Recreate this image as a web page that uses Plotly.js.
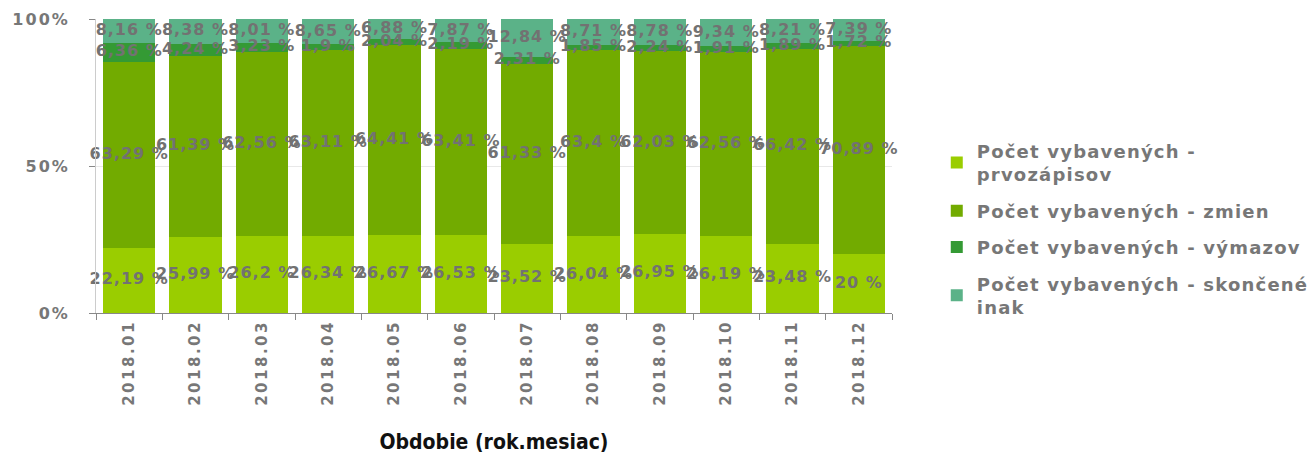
<!DOCTYPE html>
<html>
<head>
<meta charset="utf-8">
<script src="https://cdn.plot.ly/plotly-3.0.1.min.js"></script>
<style>
body { margin: 0; padding: 0; background: #fff; }
#chart { width: 1312px; height: 454px; }
.legendtext { letter-spacing: 1.2px; }
.xtick text { letter-spacing: 2.5px; }
.ytick text { letter-spacing: 2px; }
.textpoint text { letter-spacing: 1px; }
</style>
</head>
<body>
<div id="chart"></div>
<script>
const categories = ["2018.01","2018.02","2018.03","2018.04","2018.05","2018.06","2018.07","2018.08","2018.09","2018.10","2018.11","2018.12"];
const prvozapisov = [22.19, 25.99, 26.2, 26.34, 26.67, 26.53, 23.52, 26.04, 26.95, 26.19, 23.48, 20];
const zmien = [63.29, 61.39, 62.56, 63.11, 64.41, 63.41, 61.33, 63.4, 62.03, 62.56, 66.42, 70.89];
const vymazov = [6.36, 4.24, 3.23, 1.9, 2.04, 2.19, 2.31, 1.85, 2.24, 1.91, 1.89, 1.72];
const skoncene = [8.16, 8.38, 8.01, 8.65, 6.88, 7.87, 12.84, 8.71, 8.78, 9.34, 8.21, 7.39];
const seriesNames = ["Počet vybavených -<br>prvozápisov", "Počet vybavených - zmien", "Počet vybavených - výmazov", "Počet vybavených - skončené<br>inak"];
const yTickVals = [0, 50, 100];
const yTickText = ["0%", "50%", "100%"];

const colors = ["#9acd00", "#72ab00", "#349a34", "#5bb288"];
const labelFont = {family: "DejaVu Sans", size: 16, color: "#727272", weight: "bold"};

const seriesData = [prvozapisov, zmien, vymazov, skoncene];
const traces = [];
seriesData.forEach((vals, i) => {
  traces.push({
    type: "bar",
    x: categories,
    y: vals,
    name: seriesNames[i],
    legendgroup: "g" + i,
    marker: {color: colors[i]},
    hoverinfo: "none"
  });
});
// value labels centred in each stacked segment
seriesData.forEach((vals, i) => {
  const mids = vals.map((v, j) => {
    let base = 0;
    for (let k = 0; k < i; k++) base += seriesData[k][j];
    return base + v / 2;
  });
  traces.push({
    type: "scatter",
    mode: "text",
    x: categories,
    y: mids,
    text: vals.map(v => v.toLocaleString("sk-SK", {maximumFractionDigits: 2}) + " %"),
    textposition: "middle center",
    textfont: labelFont,
    showlegend: false,
    hoverinfo: "none",
    cliponaxis: false
  });
});

const layout = {
  width: 1312,
  height: 454,
  margin: {l: 96, r: 420, t: 19, b: 141},
  barmode: "stack",
  bargap: 0.215,
  separators: ", ",
  paper_bgcolor: "#ffffff",
  plot_bgcolor: "#ffffff",
  showlegend: true,
  legend: {
    xref: "container",
    x: 0.714, xanchor: "left",
    y: 0.285, yanchor: "middle",
    traceorder: "grouped",
    tracegroupgap: 10,
    font: {family: "DejaVu Sans", size: 18, color: "#777777", weight: "bold"},
    itemwidth: 30
  },
  xaxis: {
    type: "category",
    range: [-0.5, categories.length - 0.5],
    automargin: false,
    tickson: "boundaries",
    ticks: "outside",
    ticklen: 6,
    tickcolor: "#888888",
    tickangle: -90,
    showline: true,
    linecolor: "#888888",
    showgrid: false,
    tickfont: {family: "DejaVu Sans", size: 15, color: "#777777", weight: "bold"},
    title: {text: "Obdobie (rok.mesiac)", font: {family: "DejaVu Sans Condensed", size: 21, color: "#111111", weight: "bold"}, standoff: 30}
  },
  yaxis: {
    range: [0, 100],
    automargin: false,
    tickmode: "array",
    tickvals: yTickVals,
    ticktext: yTickText,
    ticks: "outside",
    ticklen: 6,
    tickcolor: "#888888",
    ticklabelstandoff: 16,
    showline: true,
    linecolor: "#cccccc",
    showgrid: true,
    gridcolor: "#e8e8e8",
    zeroline: false,
    tickfont: {family: "DejaVu Sans", size: 16, color: "#777777", weight: "bold"}
  }
};

Plotly.newPlot("chart", traces, layout, {displayModeBar: false, staticPlot: true});
</script>
</body>
</html>
